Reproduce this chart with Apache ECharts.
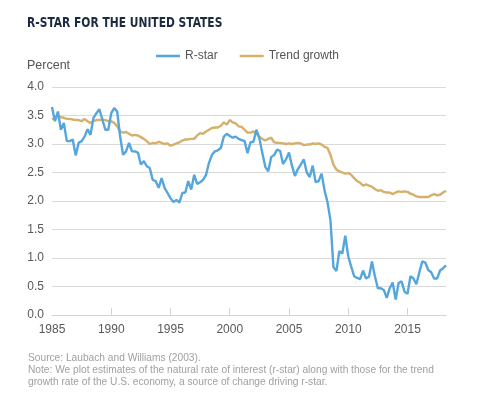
<!DOCTYPE html>
<html>
<head>
<meta charset="utf-8">
<script src="https://cdn.jsdelivr.net/npm/echarts@6/dist/echarts.min.js"></script>
<style>html,body{margin:0;padding:0;background:#fff;}#c{width:482px;height:409px;}</style>
</head>
<body>
<div id="c"></div>
<script>
// Quarterly observations, first quarter of 1985 onward
var startYear = 1985;
var rstar = [
  3.65, 3.40, 3.57, 3.25,
  3.37, 3.05, 3.05, 3.08,
  2.80, 3.02, 3.05, 3.13,
  3.26, 3.16, 3.46, 3.54,
  3.61, 3.43, 3.25, 3.25,
  3.54, 3.63, 3.57, 3.13,
  2.81, 2.87, 3.02, 2.87,
  2.87, 2.85, 2.64, 2.70,
  2.61, 2.58, 2.37, 2.35,
  2.23, 2.40, 2.23, 2.14,
  2.05, 1.98, 2.02, 1.97,
  2.14, 2.15, 2.35, 2.20,
  2.46, 2.30, 2.33, 2.37,
  2.46, 2.67, 2.81, 2.87,
  2.89, 2.93, 3.13, 3.18,
  3.14, 3.11, 3.13, 3.09,
  3.07, 3.05, 2.84, 3.03,
  3.04, 3.25, 3.10, 2.84,
  2.60, 2.52, 2.77, 2.81,
  2.90, 2.88, 2.65, 2.73,
  2.85, 2.62, 2.44, 2.56,
  2.64, 2.73, 2.50, 2.42,
  2.62, 2.33, 2.35, 2.48,
  2.19, 1.98, 1.66, 0.84,
  0.77, 1.12, 1.08, 1.39,
  1.03, 0.85, 0.68, 0.65,
  0.63, 0.78, 0.64, 0.67,
  0.94, 0.68, 0.47, 0.47,
  0.44, 0.30, 0.47, 0.57,
  0.27, 0.56, 0.59, 0.41,
  0.37, 0.68, 0.64, 0.54,
  0.75, 0.94, 0.92, 0.79,
  0.75, 0.64, 0.64, 0.78,
  0.82, 0.87
];
var trend = [
  3.43, 3.46, 3.49, 3.47,
  3.46, 3.44, 3.44, 3.43,
  3.42, 3.42, 3.40, 3.44,
  3.40, 3.37, 3.40, 3.42,
  3.42, 3.43, 3.42, 3.40,
  3.40, 3.37, 3.31, 3.22,
  3.20, 3.21, 3.18, 3.15,
  3.16, 3.15, 3.12, 3.09,
  3.05, 3.00, 3.02, 3.01,
  3.04, 3.02, 3.00, 3.01,
  2.97, 2.99, 3.01, 3.03,
  3.06, 3.08, 3.08, 3.09,
  3.09, 3.15, 3.19, 3.18,
  3.22, 3.25, 3.28, 3.29,
  3.29, 3.32, 3.38, 3.34,
  3.42, 3.38, 3.36, 3.31,
  3.30, 3.25, 3.20, 3.20,
  3.22, 3.18, 3.13, 3.09,
  3.06, 3.09, 3.11, 3.03,
  3.02, 3.02, 3.01, 3.00,
  3.01, 3.00, 3.01, 3.02,
  3.01, 2.98, 2.99, 2.99,
  3.01, 3.00, 3.01, 2.99,
  2.95, 2.93, 2.81, 2.64,
  2.55, 2.52, 2.50, 2.48,
  2.49, 2.46, 2.40, 2.35,
  2.32, 2.27, 2.29, 2.27,
  2.25, 2.21, 2.18, 2.19,
  2.16, 2.15, 2.15, 2.12,
  2.15, 2.17, 2.16, 2.17,
  2.16, 2.13, 2.11, 2.08,
  2.07, 2.07, 2.07, 2.07,
  2.10, 2.12, 2.10, 2.11,
  2.15, 2.18
];
var xLabels = [1985, 1990, 1995, 2000, 2005, 2010, 2015];
var xTicks = [1990, 1995, 2000, 2005, 2010, 2015];
var seriesNames = ['R-star', 'Trend growth'];
var titleText = 'R-STAR FOR THE UNITED STATES';
var yName = 'Percent';
var noteLines = [
  'Source: Laubach and Williams (2003).',
  'Note: We plot estimates of the natural rate of interest (r-star) along with those for the trend',
  'growth rate of the U.S. economy, a source of change driving r-star.'
];

function toPairs(arr) {
  return arr.map(function (v, i) { return [startYear + i / 4, v]; });
}

var chart = echarts.init(document.getElementById('c'), null, { renderer: 'canvas' });
var font = 'Liberation Sans, Arial, sans-serif';
chart.setOption({
  animation: false,
  backgroundColor: '#ffffff',
  graphic: [
    { type: 'text', x: 27, y: 16, scaleX: 0.85, scaleY: 1,
      style: { text: titleText, font: 'bold 14px "DejaVu Sans Condensed"', fill: '#1c2b3f',
        textAlign: 'left', textVerticalAlign: 'top' } }
  ],
  title: [
    { text: yName, left: 22, top: 54,
      textStyle: { fontFamily: font, fontWeight: 'normal', fontSize: 12.5, color: '#555555' } },
    { text: noteLines.join('\n'), left: 23, top: 347,
      textStyle: { fontFamily: font, fontWeight: 'normal', fontSize: 10.2, lineHeight: 12, color: '#a0a0a0' } }
  ],
  legend: {
    left: 151, top: 45,
    itemWidth: 24, itemHeight: 2.5, itemGap: 22,
    icon: 'rect',
    textStyle: { fontFamily: font, fontSize: 12, color: '#555555' },
    data: seriesNames
  },
  grid: { left: 52, right: 36, top: 87, bottom: 94, containLabel: false },
  xAxis: {
    type: 'value', min: 1985, max: 2018.25, interval: 5,
    splitLine: { show: false },
    axisLine: { show: true, lineStyle: { color: '#d4d4d4', width: 1 } },
    axisTick: { show: true, inside: true, length: 7, lineStyle: { color: '#d4d4d4' }, customValues: xTicks },
    axisLabel: { fontFamily: font, fontSize: 12, color: '#595959', margin: 9, customValues: xLabels,
      formatter: function (v) { return String(v); } }
  },
  yAxis: {
    type: 'value', min: 0, max: 4, interval: 0.5,
    axisLine: { show: false },
    axisTick: { show: false },
    splitLine: { show: true, lineStyle: { color: '#dadada', width: 1 } },
    axisLabel: { fontFamily: font, fontSize: 12, color: '#595959', margin: 8,
      formatter: function (v) { return v.toFixed(1); } }
  },
  series: [
    { name: seriesNames[0], type: 'line', data: toPairs(rstar), showSymbol: false, symbol: 'none',
      lineStyle: { color: '#55a6dc', width: 2.4 }, itemStyle: { color: '#55a6dc' }, z: 3 },
    { name: seriesNames[1], type: 'line', data: toPairs(trend), showSymbol: false, symbol: 'none',
      lineStyle: { color: '#d6b06b', width: 2.4 }, itemStyle: { color: '#d6b06b' }, z: 2 }
  ]
});
</script>
</body>
</html>
